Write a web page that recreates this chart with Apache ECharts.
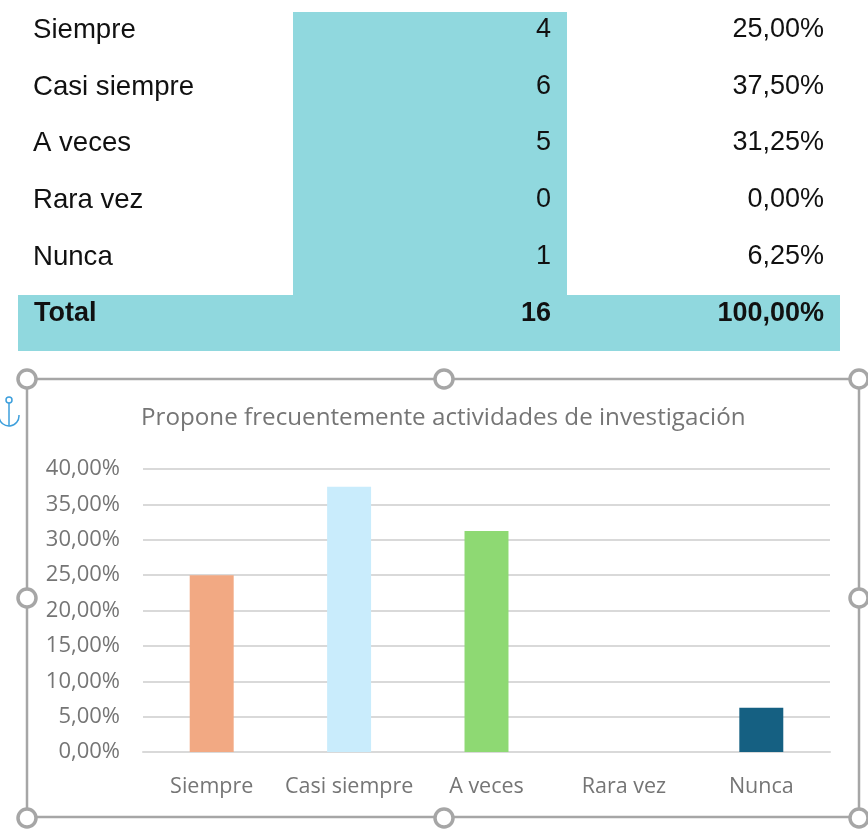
<!DOCTYPE html>
<html>
<head>
<meta charset="utf-8">
<style>html,body{margin:0;padding:0;background:#fff}#c{width:868px;height:830px}</style>
<script src="https://cdn.jsdelivr.net/npm/echarts@6/dist/echarts.min.js"></script>
</head>
<body>
<div id="c"></div>
<script>
const categories = ["Siempre", "Casi siempre", "A veces", "Rara vez", "Nunca"];
const counts = [4, 6, 5, 0, 1];
const percents = [25.00, 37.50, 31.25, 0.00, 6.25];
const barColors = ["#f2a983", "#c9ecfc", "#8ed973", "#0f9ed5", "#156082"];
const totalLabel = "Total";
const totalCount = 16;
const totalPercent = 100.00;
const chartTitle = "Propone frecuentemente actividades de investigación";
const yTicksMax = 40, yTickStep = 5;

const fmt = v => v.toFixed(2).replace(".", ",") + "%";
const tableFont = '"Liberation Sans", Arial, sans-serif';
const chartFont = '"Open Sans", "Noto Sans", sans-serif';
const teal = "#90d8de", handle = "#a6a6a6";
const rowY = [30, 87, 143, 200, 257];

const g = [];
g.push({type:"rect",z:0,shape:{x:293,y:12,width:274,height:283},style:{fill:teal}});
g.push({type:"rect",z:0,shape:{x:18,y:295,width:822,height:56},style:{fill:teal}});
function cell(t,x,y,align,font){
  g.push({type:"text",z:1,x:x,y:y,style:{text:String(t),fill:"#111",font:font+" "+tableFont,textAlign:align,textVerticalAlign:"middle"}});
}
categories.forEach((c,i)=>{
  cell(c,33,rowY[i],"left","27.6px");
  cell(counts[i],551,rowY[i],"right","27px");
  cell(fmt(percents[i]),824,rowY[i],"right","27px");
});
cell(totalLabel,34,314,"left","bold 27px");
cell(totalCount,551,314,"right","bold 27px");
cell(fmt(totalPercent),824,314,"right","bold 27px");

// selection frame
g.push({type:"rect",z:2,shape:{x:27,y:379,width:832,height:438},style:{fill:"none",stroke:handle,lineWidth:2.5}});
[[27,379],[444,379],[859,379],[27,598],[859,598],[27,818],[444,818],[859,818]].forEach(p=>{
  g.push({type:"circle",z:3,shape:{cx:p[0],cy:p[1],r:9},style:{fill:"#fff",stroke:handle,lineWidth:3.5}});
});
// anchor icon
const blue="#3d9fdc";
g.push({type:"circle",z:3,shape:{cx:9,cy:400,r:3},style:{fill:"none",stroke:blue,lineWidth:1.5}});
g.push({type:"line",z:3,shape:{x1:9,y1:403,x2:9,y2:426},style:{stroke:blue,lineWidth:1.5}});
g.push({type:"arc",z:3,shape:{cx:9,cy:416,r:10,startAngle:-0.1,endAngle:Math.PI+0.1,clockwise:true},style:{fill:"none",stroke:blue,lineWidth:1.5}});

const chart = echarts.init(document.getElementById("c"), null, {renderer:"canvas"});
chart.setOption({
  animation:false,
  backgroundColor:"#fff",
  title:{text:chartTitle,left:141,top:406,textStyle:{color:"#757575",fontFamily:chartFont,fontSize:24.2,fontWeight:"normal"},padding:0},
  grid:{left:143,right:38,top:469,bottom:78,containLabel:false},
  xAxis:{type:"category",data:categories,axisTick:{show:false},
    axisLine:{lineStyle:{color:"#d9d9d9",width:2}},
    axisLabel:{color:"#757575",fontFamily:chartFont,fontSize:21.5,margin:24,interval:0}},
  yAxis:{type:"value",min:0,max:yTicksMax,interval:yTickStep,axisLine:{show:false},axisTick:{show:false},
    splitLine:{lineStyle:{color:"#d9d9d9",width:2}},
    axisLabel:{color:"#757575",fontFamily:chartFont,fontSize:22,margin:23,padding:[3,0,0,0],formatter:v=>fmt(v)}},
  series:[{type:"bar",barWidth:"32%",
    data:percents.map((v,i)=>({value:v,itemStyle:{color:barColors[i]}}))}],
  graphic:{elements:g}
});
</script>
</body>
</html>
